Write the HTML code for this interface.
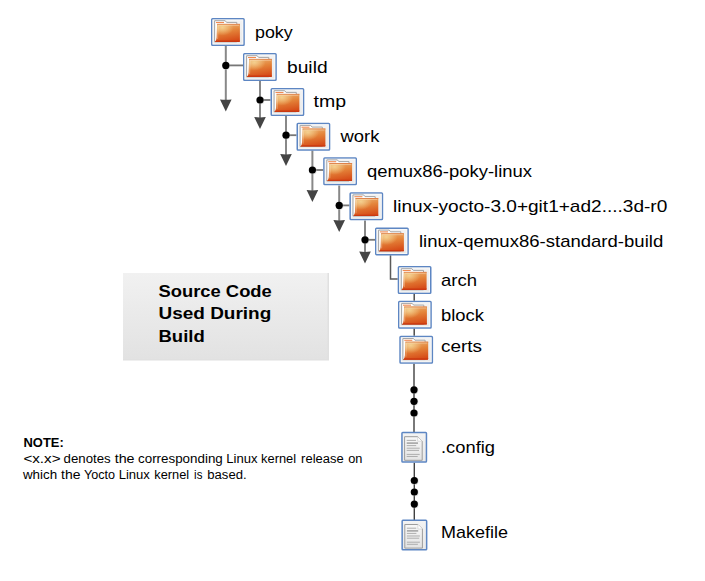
<!DOCTYPE html>
<html><head><meta charset="utf-8">
<style>
html,body{margin:0;padding:0;background:#fff;}
body{width:705px;height:581px;overflow:hidden;position:relative;}
svg{position:absolute;left:0;top:0;}
text{font-family:"Liberation Sans",sans-serif;fill:#000;}
.lbl{font-size:17px;}
</style></head><body>
<svg width="705" height="581" viewBox="0 0 705 581">
<defs>
  <linearGradient id="boxg" x1="0" y1="0" x2="0" y2="1">
    <stop offset="0" stop-color="#f3f3f3"/><stop offset="1" stop-color="#e9e9e9"/>
  </linearGradient>
  <linearGradient id="fold" x1="0.2" y1="0" x2="0.45" y2="1">
    <stop offset="0" stop-color="#ebb272"/>
    <stop offset="0.45" stop-color="#e4843a"/>
    <stop offset="1" stop-color="#d64c18"/>
  </linearGradient>
  <radialGradient id="foldhi" cx="0.3" cy="0.2" r="0.45">
    <stop offset="0" stop-color="#f7dc9c" stop-opacity="0.8"/>
    <stop offset="1" stop-color="#f7dc9c" stop-opacity="0"/>
  </radialGradient>
  <linearGradient id="pageg" x1="0" y1="0" x2="0" y2="1">
    <stop offset="0" stop-color="#f8f8f8"/><stop offset="1" stop-color="#e4e4e4"/>
  </linearGradient>
  <linearGradient id="srcg" x1="0" y1="0" x2="0" y2="1">
    <stop offset="0" stop-color="#f1f1f1"/><stop offset="1" stop-color="#e2e2e2"/>
  </linearGradient>
  <g id="folder">
    <rect x="0.75" y="0.75" width="32.3" height="26.5" rx="0.8" fill="url(#boxg)" stroke="#5d86c3" stroke-width="1.5"/>
    <rect x="2" y="2" width="29.8" height="24" fill="none" stroke="#fafafa" stroke-width="0.8"/>
    <path d="M3.6 23.8 V2.7 H14.2 L15.6 4.4 H25.8 V23.8 Z" fill="#fdfdfd" stroke="#a4a4a4" stroke-width="1"/>
        <line x1="5" y1="4.5" x2="13" y2="4.5" stroke="#f08a52" stroke-width="1.1"/>
    <path d="M6.1 5.9 H28.9 V23 Q28.9 23.9 28 23.9 H3.9 Q5.4 22.6 5.6 19.5 Z" fill="url(#fold)"/>
    <path d="M6.1 5.9 H28.9 V23 Q28.9 23.9 28 23.9 H3.9 Q5.4 22.6 5.6 19.5 Z" fill="url(#foldhi)"/>
    <path d="M3.9 23.9 H28 Q28.9 23.9 28.9 23 V22.5 H5.3 Q4.9 23.3 3.9 23.9 Z" fill="#cb3811"/>
    <line x1="6.1" y1="6.3" x2="28.9" y2="6.3" stroke="#da7944" stroke-width="0.8"/>
    <line x1="7" y1="7.3" x2="28" y2="7.3" stroke="#ffe6c8" stroke-width="0.8" opacity="0.55"/>
    <line x1="7.2" y1="7.5" x2="6.6" y2="21" stroke="#fff3e0" stroke-width="0.7" opacity="0.45"/>
  </g>
  <g id="doc">
    <rect x="0.75" y="0.75" width="24.5" height="29.5" rx="0.8" fill="url(#boxg)" stroke="#5d86c3" stroke-width="1.5"/>
    <path d="M3.4 4.9 H16.5 L21 9.4 V28.5 H3.4 Z" fill="url(#pageg)" stroke="#9c9c9c" stroke-width="1"/>
    <path d="M16.5 4.9 V9.4 H21" fill="#fff" stroke="#c8c8c8" stroke-width="0.6"/>
    <g stroke="#a6a6a6" stroke-width="0.9">
      <line x1="5.5" y1="8.6" x2="14.8" y2="8.6"/>
      <line x1="5.5" y1="11.3" x2="16.8" y2="11.3" stroke-width="1.4" stroke="#9a9a9a"/>
      <line x1="5.5" y1="13.8" x2="15" y2="13.8"/>
      <line x1="5.5" y1="16.4" x2="18.5" y2="16.4"/>
      <line x1="5.5" y1="18.6" x2="17.8" y2="18.6"/>
      <line x1="5.5" y1="22.6" x2="18.5" y2="22.6"/>
      <line x1="5.5" y1="24.7" x2="16.5" y2="24.7"/>
    </g>
  </g>
  <g id="dot"><circle cx="0.4" cy="0.4" r="3.9" fill="#bbb" opacity="0.5"/><circle cx="0" cy="0" r="3.6" fill="#000"/></g>
  <g id="arrow"><path d="M-5.8 0 Q0 0.8 5.8 0 L0 12 Z" fill="#444"/></g>
</defs>

<!-- Source code box -->
<rect x="123" y="273" width="206" height="87.5" fill="#e0e0e0"/>
<rect x="123" y="273" width="204.5" height="86" fill="url(#srcg)"/>

<!-- main chain lines -->
<g stroke="#888" stroke-width="2" fill="none">
  <line x1="225.8" y1="46" x2="225.8" y2="100"/>
  <line x1="225.8" y1="65.4" x2="243" y2="65.4" stroke="#777" stroke-width="1.8"/>
  <line x1="260" y1="81" x2="260" y2="118"/>
  <line x1="260" y1="100" x2="270.5" y2="100" stroke="#777" stroke-width="1.8"/>
  <line x1="286" y1="116" x2="286" y2="155"/>
  <line x1="286" y1="135.2" x2="296.5" y2="135.2" stroke="#777" stroke-width="1.8"/>
  <line x1="312.4" y1="150.5" x2="312.4" y2="191"/>
  <line x1="312.4" y1="170" x2="323.2" y2="170" stroke="#777" stroke-width="1.8"/>
  <line x1="339.2" y1="185.5" x2="339.2" y2="221"/>
  <line x1="339.2" y1="205.4" x2="349.4" y2="205.4" stroke="#777" stroke-width="1.8"/>
  <line x1="365" y1="220.5" x2="365" y2="252"/>
  <line x1="365" y1="239.8" x2="375" y2="239.8" stroke="#777" stroke-width="1.8"/>
</g>
<path d="M390.5 255.3 V279 H397.7" stroke="#5a5a5a" stroke-width="1.5" fill="none"/>
<g stroke="#404040" stroke-width="1.4">
  <line x1="414.2" y1="293.7" x2="414.2" y2="300.7"/>
  <line x1="414.2" y1="328.6" x2="414.2" y2="335.8"/>
  <line x1="414" y1="363.8" x2="414" y2="432"/>
  <line x1="414.3" y1="462.8" x2="414.3" y2="520"/>
</g>
<use href="#arrow" x="225.8" y="99.4"/>
<use href="#arrow" x="260" y="117"/>
<use href="#arrow" x="286" y="154"/>
<use href="#arrow" x="312.4" y="190"/>
<use href="#arrow" x="339.2" y="220"/>
<use href="#arrow" x="365" y="251.5"/>

<use href="#dot" x="225.8" y="65.4"/>
<use href="#dot" x="260" y="100"/>
<use href="#dot" x="286" y="135.2"/>
<use href="#dot" x="312.4" y="170"/>
<use href="#dot" x="339.2" y="205.4"/>
<use href="#dot" x="365" y="239.8"/>
<use href="#dot" x="414" y="389.8"/>
<use href="#dot" x="414" y="401.3"/>
<use href="#dot" x="414" y="413"/>
<use href="#dot" x="414.3" y="480.5"/>
<use href="#dot" x="414.3" y="492"/>
<use href="#dot" x="414.3" y="504.1"/>

<use href="#folder" x="211" y="18"/>
<use href="#folder" x="243" y="53"/>
<use href="#folder" x="270.5" y="88"/>
<use href="#folder" x="296.5" y="122.7"/>
<use href="#folder" x="323.2" y="157.2"/>
<use href="#folder" x="349.4" y="192.2"/>
<use href="#folder" x="375" y="227.4"/>
<use href="#folder" x="397.7" y="266"/>
<use href="#folder" x="398" y="300.7"/>
<use href="#folder" x="399.3" y="335.8"/>
<use href="#doc" x="401.2" y="431.8"/>
<use href="#doc" x="401.4" y="519.6"/>

<!-- labels -->
<text class="lbl" x="255" y="37.6" textLength="37.7" lengthAdjust="spacingAndGlyphs">poky</text>
<text class="lbl" x="287" y="72.6" textLength="40.6" lengthAdjust="spacingAndGlyphs">build</text>
<text class="lbl" x="313.5" y="107" textLength="32.5" lengthAdjust="spacingAndGlyphs">tmp</text>
<text class="lbl" x="340.5" y="141.6" textLength="38.9" lengthAdjust="spacingAndGlyphs">work</text>
<text class="lbl" x="367" y="176.5" textLength="165" lengthAdjust="spacingAndGlyphs">qemux86-poky-linux</text>
<text class="lbl" x="393" y="211.9" textLength="274.3" lengthAdjust="spacingAndGlyphs">linux-yocto-3.0+git1+ad2....3d-r0</text>
<text class="lbl" x="419" y="246.8" textLength="244.2" lengthAdjust="spacingAndGlyphs">linux-qemux86-standard-build</text>
<text class="lbl" x="441" y="286.2" textLength="36" lengthAdjust="spacingAndGlyphs">arch</text>
<text class="lbl" x="441" y="320.6" textLength="43" lengthAdjust="spacingAndGlyphs">block</text>
<text class="lbl" x="441" y="351.6" textLength="41.1" lengthAdjust="spacingAndGlyphs">certs</text>
<text class="lbl" x="441" y="452.9" textLength="54" lengthAdjust="spacingAndGlyphs">.config</text>
<text class="lbl" x="441" y="537.7" textLength="66.9" lengthAdjust="spacingAndGlyphs">Makefile</text>

<g style="font-size:16.5px;font-weight:bold">
<text x="158.5" y="296.8" textLength="113.3" lengthAdjust="spacingAndGlyphs">Source Code</text>
<text x="158.5" y="318.8" textLength="112.8" lengthAdjust="spacingAndGlyphs">Used During</text>
<text x="158.5" y="341.6" textLength="46.2" lengthAdjust="spacingAndGlyphs">Build</text>
</g>
<text x="23.5" y="446.8" style="font-size:12px;font-weight:bold" textLength="40.2" lengthAdjust="spacingAndGlyphs">NOTE:</text>
<g style="font-size:12.5px">
<text x="23.4" y="462.7" textLength="37.2" lengthAdjust="spacingAndGlyphs">&lt;x.x&gt;</text>
<text x="63.6" y="462.7" textLength="47.1" lengthAdjust="spacingAndGlyphs">denotes</text>
<text x="114.7" y="462.7" textLength="19.9" lengthAdjust="spacingAndGlyphs">the</text>
<text x="138.0" y="462.7" textLength="84.8" lengthAdjust="spacingAndGlyphs">corresponding</text>
<text x="226.3" y="462.7" textLength="31.3" lengthAdjust="spacingAndGlyphs">Linux</text>
<text x="261.1" y="462.7" textLength="35.0" lengthAdjust="spacingAndGlyphs">kernel</text>
<text x="301.1" y="462.7" textLength="42.6" lengthAdjust="spacingAndGlyphs">release</text>
<text x="348.2" y="462.7" textLength="14.2" lengthAdjust="spacingAndGlyphs">on</text>
<text x="22.9" y="479.1" textLength="34.2" lengthAdjust="spacingAndGlyphs">which</text>
<text x="61.1" y="479.1" textLength="19.4" lengthAdjust="spacingAndGlyphs">the</text>
<text x="83.9" y="479.1" textLength="31.1" lengthAdjust="spacingAndGlyphs">Yocto</text>
<text x="118.7" y="479.1" textLength="31.2" lengthAdjust="spacingAndGlyphs">Linux</text>
<text x="154.3" y="479.1" textLength="34.8" lengthAdjust="spacingAndGlyphs">kernel</text>
<text x="194.1" y="479.1" textLength="8.3" lengthAdjust="spacingAndGlyphs">is</text>
<text x="207.3" y="479.1" textLength="39.3" lengthAdjust="spacingAndGlyphs">based.</text>
</g>
</svg>
</body></html>
